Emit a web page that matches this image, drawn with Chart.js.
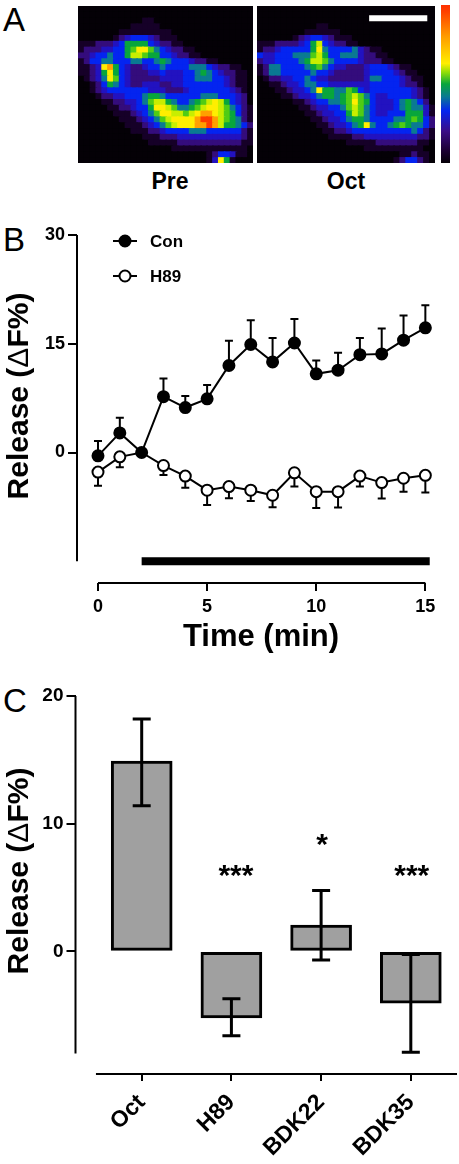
<!DOCTYPE html>
<html>
<head>
<meta charset="utf-8">
<title>Release</title>
<script src="https://cdn.jsdelivr.net/npm/chart.js@4"></script>
<style>
  html, body { margin: 0; padding: 0; background: #fff; }
  body { position: relative; width: 459px; height: 1164px; overflow: hidden; font-family: "Liberation Sans", Arial, sans-serif; color: #000; }
  canvas { position: absolute; display: block; }
  .heat { filter: blur(0.6px); background: #040006; }
  .letter { position: absolute; font-size: 33px; line-height: 33px; }
  .caption { position: absolute; font-size: 23px; line-height: 26px; font-weight: 700; width: 80px; text-align: center; }
</style>
</head>
<body>
<div class="letter" style="left:3px;top:3px">A</div>
<div class="letter" style="left:3px;top:223px">B</div>
<div class="letter" style="left:3px;top:684px">C</div>
<div class="caption" style="left:130px;top:168px">Pre</div>
<div class="caption" style="left:306px;top:168px">Oct</div>

<canvas id="pre" class="heat" width="175" height="157" style="left:78px;top:6px"></canvas>
<canvas id="oct" class="heat" width="178" height="157" style="left:257px;top:6px"></canvas>
<canvas id="lut" class="heat" width="9" height="158" style="left:441px;top:5px"></canvas>
<canvas id="timeChart" width="459" height="445" style="left:0;top:215px"></canvas>
<canvas id="barChart" width="459" height="484" style="left:0;top:680px"></canvas>

<script>
// panel A, one char per image cell, index into HEAT_COLORS
var preRows = [
  '000000000000000000000000000000',
  '000000000000000000000000000000',
  '000000000001100000000000000000',
  '000000000111110000000000000000',
  '000000011111111100000000000000',
  '000000123444321110000000000000',
  '111222346666432211000000000000',
  '122233446799754322110000000000',
  '223445446887664432211000000000',
  '124455444554456544432211000000',
  '11239a643223445444455543221100',
  '112369643222334333445654322110',
  '012359743222223333445554432110',
  '001246543223332233444444432110',
  '001234444444333222344444443210',
  '000122334445665444444555444320',
  '000011223345788654456789864320',
  '000001122344699875567899875421',
  '000000111234579988789aa9876421',
  '00000001112345789999abba876521',
  '00000000111234578999aaba866542',
  '000000000111223444455544444421',
  '000000000001112223333333333321',
  '000000000000111112222222222211',
  '000000000000000011111111111110',
  '000000000000000000000012443110',
  '000000000000000000000013961000'
];
var octRows = [
  '000000000000000000000000000000',
  '000000000000000000000000000000',
  '000000000000000000000000000000',
  '000000000011000000000000000000',
  '000000001111110000000000000000',
  '000000123443211100000000000000',
  '111222234684322110000000000000',
  '122344444695444453211000000000',
  '433444555786445553221100000000',
  '233444456887544443222110000000',
  '125544445675433222344432110000',
  '125544444544322222344443211000',
  '012233445433222222355444321100',
  '001123345544333333344444322100',
  '000112334596655764344444443210',
  '000011233456656787543344443210',
  '000000112344556797643334565420',
  '000000011233445787543334565531',
  '000000001123344687543344466631',
  '000000000112334566544445567642',
  '000000000011233456954456765542',
  '000000000001122344444444445421',
  '000000000000111122333333333221',
  '000000000000000111112222222110',
  '000000000000000000111111111100',
  '000000000000000000000000112110',
  '000000000000000000000001244210'
];
var HEAT_COLORS = ['#040006', '#160028', '#340c7c', '#2212c0', '#0424f0', '#0a7a92', '#08a63c', '#50cc14', '#c8ee00', '#ffee00', '#ffa000', '#ff3c00'];
var lutStops = [0, 0.08, 0.2, 0.33, 0.42, 0.5, 0.57, 0.63, 0.8, 0.96, 1];
var lutColors = ['#040006', '#1c0034', '#3a0c86', '#0424f0', '#0a7a92', '#08a63c', '#88dc08', '#ffee00', '#ff9c00', '#ff4000', '#ff3000'];
var scaleBarCols = [18.9, 28.7];
var scaleBarRow = 2.1;

// panel B
var minutes = [0, 1, 2, 3, 4, 5, 6, 7, 8, 9, 10, 11, 12, 13, 14, 15];
var conValues = [-0.46, 2.7, 0, 7.7, 6.2, 7.4, 12.0, 14.9, 12.5, 15.1, 10.85, 11.35, 13.5, 13.6, 15.5, 17.2];
var conErrTop = [1.6, 4.8, null, 10.2, 7.8, 9.3, 15.4, 18.25, 15.8, 18.4, 12.7, 13.75, 15.8, 17.1, 18.9, 20.3];
var h89Values = [-2.7, -0.6, 0, -1.8, -3.25, -5.2, -4.7, -5.2, -5.9, -2.8, -5.4, -5.4, -3.25, -4.15, -3.55, -3.15];
var h89ErrBottom = [-4.6, -2.05, null, -3.1, -4.85, -7.25, -6.3, -6.7, -7.55, -4.7, -7.65, -7.6, -4.7, -6.35, -5.4, -5.5];
var stimX = [2, 15.2];
var stimLevel = -15;
var timeXTicks = [0, 5, 10, 15];
var timeYTicks = [0, 15, 30];

// panel C
var groups = ['Oct', 'H89', 'BDK22', 'BDK35'];
var groupValues = [14.9, -5.2, 2.06, -4.05];
var groupErrHigh = [18.2, -3.7, 4.77, -0.25];
var groupErrLow = [11.4, -6.6, -0.68, -7.9];
var starText = ['***', '*', '***'];
var starX = [1.05, 2.01, 3.01];
var starY = [6.1, 8.5, 6.1];
var barYTicks = [0, 10, 20];

Chart.defaults.font.family = '"Liberation Sans", Arial, sans-serif';
Chart.defaults.font.weight = 'bold';
Chart.defaults.color = '#000';
Chart.defaults.animation = false;
Chart.defaults.responsive = false;
Chart.defaults.plugins.legend.display = false;
Chart.defaults.plugins.tooltip.enabled = false;

function cellPoints(rows) {
  var pts = [], cols = [];
  rows.forEach(function(row, r) {
    row.split('').forEach(function(ch, c) {
      // squares overlap up and left, so the centre sits a bit past the middle
      pts.push({ x: c + 0.63, y: r + 0.63 });
      cols.push(HEAT_COLORS[parseInt(ch, 16)]);
    });
  });
  return { pts: pts, cols: cols };
}

function heatChart(id, rows, extra) {
  var cells = cellPoints(rows);
  var el = document.getElementById(id);
  var datasets = [{
    data: cells.pts,
    pointStyle: 'rect',
    pointRadius: (el.width / rows[0].length) * 0.9,
    pointBorderWidth: 0,
    pointBackgroundColor: cells.cols,
    showLine: false,
    order: 2
  }];
  if (extra) datasets.push(extra);
  return new Chart(el, {
    type: 'scatter',
    data: { datasets: datasets },
    options: {
      layout: { padding: 0, autoPadding: false },
      scales: {
        x: { type: 'linear', min: 0, max: rows[0].length, display: false },
        y: { type: 'linear', min: 0, max: rows.length, reverse: true, display: false }
      }
    }
  });
}

heatChart('pre', preRows);
heatChart('oct', octRows, {
  type: 'line',
  data: scaleBarCols.map(function(c) { return { x: c, y: scaleBarRow }; }),
  borderColor: '#fff',
  borderWidth: 6,
  pointRadius: 0,
  order: 1
});

new Chart(document.getElementById('lut'), {
  type: 'bar',
  data: {
    labels: [''],
    datasets: [{
      data: [[0, 1]],
      barPercentage: 1,
      categoryPercentage: 1,
      backgroundColor: function(ctx) {
        var a = ctx.chart.chartArea;
        if (!a) return '#000';
        var g = ctx.chart.ctx.createLinearGradient(0, a.bottom, 0, a.top);
        lutStops.forEach(function(s, i) { g.addColorStop(s, lutColors[i]); });
        return g;
      }
    }]
  },
  options: {
    layout: { padding: 0, autoPadding: false },
    scales: {
      x: { display: false },
      y: { display: false, min: 0, max: 1 }
    }
  }
});

// detached axes, Prism style: spine only runs over the given value range
var spines = {
  id: 'spines',
  afterDraw: function(chart, args, o) {
    var c = chart.ctx, a = chart.chartArea, sx = chart.scales.x, sy = chart.scales.y;
    c.save();
    c.strokeStyle = '#000';
    c.lineWidth = 2;
    c.beginPath();
    c.moveTo(a.left, sy.getPixelForValue(o.y[0]));
    c.lineTo(a.left, sy.getPixelForValue(o.y[1]));
    c.moveTo(sx.getPixelForValue(o.x[0]), a.bottom);
    c.lineTo(sx.getPixelForValue(o.x[1]), a.bottom);
    c.stroke();
    c.restore();
  }
};

// y title: the delta is a thin glyph in the original, so the text goes in runs
var releaseTitle = {
  id: 'releaseTitle',
  afterDraw: function(chart, args, o) {
    var c = chart.ctx;
    var runs = [['Release (', 'bold'], ['Δ', 'normal'], ['F%)', 'bold']];
    var fam = ' ' + o.size + 'px "Liberation Sans", Arial, sans-serif';
    var total = 0;
    runs.forEach(function(r) { c.font = r[1] + fam; total += c.measureText(r[0]).width; });
    c.save();
    c.translate(o.x, o.y);
    c.rotate(-Math.PI / 2);
    c.textBaseline = 'alphabetic';
    c.fillStyle = '#000';
    var pos = -total / 2;
    runs.forEach(function(r) {
      c.font = r[1] + fam;
      c.fillText(r[0], pos, 0);
      pos += c.measureText(r[0]).width;
    });
    c.restore();
  }
};

var timeErrors = {
  id: 'timeErrors',
  beforeDatasetsDraw: function(chart) {
    var c = chart.ctx, sx = chart.scales.x, sy = chart.scales.y;
    function draw(tips, values) {
      tips.forEach(function(t, i) {
        if (t === null) return;
        var x = sx.getPixelForValue(minutes[i]);
        var y = sy.getPixelForValue(t);
        c.beginPath();
        c.moveTo(x, sy.getPixelForValue(values[i]));
        c.lineTo(x, y);
        c.moveTo(x - 4, y);
        c.lineTo(x + 4, y);
        c.stroke();
      });
    }
    c.save();
    c.strokeStyle = '#000';
    c.lineWidth = 2;
    draw(conErrTop, conValues);
    draw(h89ErrBottom, h89Values);
    c.restore();
  }
};

var timeLegend = {
  id: 'timeLegend',
  afterDraw: function(chart) {
    var c = chart.ctx;
    [['Con', 26, '#000'], ['H89', 61, '#fff']].forEach(function(item) {
      c.save();
      c.strokeStyle = '#000';
      c.lineWidth = 2;
      c.beginPath();
      c.moveTo(113, item[1]);
      c.lineTo(137, item[1]);
      c.stroke();
      c.beginPath();
      c.arc(125, item[1], 5.5, 0, Math.PI * 2);
      c.fillStyle = item[2];
      c.fill();
      c.stroke();
      c.fillStyle = '#000';
      c.font = 'bold 17px "Liberation Sans", Arial, sans-serif';
      c.textBaseline = 'middle';
      c.fillText(item[0], 150, item[1] + 1);
      c.restore();
    });
  }
};

function xy(xs, ys) {
  return xs.map(function(x, i) { return { x: x, y: ys[i] }; });
}

new Chart(document.getElementById('timeChart'), {
  type: 'line',
  data: {
    datasets: [
      {
        label: 'H89',
        data: xy(minutes, h89Values),
        borderColor: '#000',
        borderWidth: 2,
        pointBackgroundColor: '#fff',
        pointBorderColor: '#000',
        pointBorderWidth: 2,
        pointRadius: function(ctx) { return h89ErrBottom[ctx.dataIndex] === null ? 0 : 5.5; },
        order: 1
      },
      {
        label: 'Con',
        data: xy(minutes, conValues),
        borderColor: '#000',
        borderWidth: 2,
        pointBackgroundColor: '#000',
        pointBorderColor: '#000',
        pointBorderWidth: 2,
        pointRadius: 5.5,
        order: 2
      },
      {
        label: 'Oct',
        data: xy(stimX, stimX.map(function() { return stimLevel; })),
        borderColor: '#000',
        borderWidth: 8,
        borderCapStyle: 'butt',
        pointRadius: 0,
        order: 3
      }
    ]
  },
  options: {
    layout: { padding: { top: 20, right: 14, left: 0, bottom: 0 }, autoPadding: false },
    scales: {
      x: {
        type: 'linear',
        min: -0.962,
        max: 15.9,
        afterBuildTicks: function(s) { s.ticks = timeXTicks.map(function(v) { return { value: v }; }); },
        afterFit: function(s) { s.height = 77; },
        border: { display: false },
        grid: { drawOnChartArea: false, color: '#000', lineWidth: 2, tickLength: 8 },
        ticks: { autoSkip: false, maxRotation: 0, font: { size: 18, weight: 'bold' }, padding: 5 },
        title: { display: true, text: 'Time (min)', font: { size: 31, weight: 'bold' }, padding: { top: 1, bottom: 4 } }
      },
      y: {
        type: 'linear',
        min: -18,
        max: 30,
        afterBuildTicks: function(s) { s.ticks = timeYTicks.map(function(v) { return { value: v }; }); },
        afterFit: function(s) { s.width = 77; },
        border: { display: false },
        grid: { drawOnChartArea: false, color: '#000', lineWidth: 2, tickLength: 9 },
        ticks: { autoSkip: false, font: { size: 18, weight: 'bold' }, padding: 3 }
      }
    },
    plugins: {
      spines: { x: [0, 15], y: [30, -15] },
      releaseTitle: { x: 28, y: 181, size: 30 }
    }
  },
  plugins: [spines, releaseTitle, timeErrors, timeLegend]
});

var barErrors = {
  id: 'barErrors',
  afterDatasetsDraw: function(chart) {
    var c = chart.ctx, sx = chart.scales.x, sy = chart.scales.y;
    c.save();
    c.strokeStyle = '#000';
    c.lineWidth = 3;
    groups.forEach(function(g, i) {
      var x = sx.getPixelForValue(i);
      var hi = sy.getPixelForValue(groupErrHigh[i]);
      var lo = sy.getPixelForValue(groupErrLow[i]);
      c.beginPath();
      c.moveTo(x, hi);
      c.lineTo(x, lo);
      c.moveTo(x - 9, hi);
      c.lineTo(x + 9, hi);
      c.moveTo(x - 9, lo);
      c.lineTo(x + 9, lo);
      c.stroke();
    });
    c.fillStyle = '#000';
    c.font = 'bold 30px "Liberation Sans", Arial, sans-serif';
    c.textAlign = 'center';
    c.textBaseline = 'alphabetic';
    starText.forEach(function(t, i) {
      c.fillText(t, sx.getPixelForValue(starX[i]), sy.getPixelForValue(starY[i]) + 11);
    });
    c.restore();
  }
};

new Chart(document.getElementById('barChart'), {
  type: 'bar',
  data: {
    datasets: [{
      data: xy(groups.map(function(g, i) { return i; }), groupValues),
      backgroundColor: '#a0a0a0',
      borderColor: '#000',
      borderWidth: 3,
      borderSkipped: false,
      barThickness: 61
    }]
  },
  options: {
    layout: { padding: { top: 16, right: 1, left: 0, bottom: 0 }, autoPadding: false },
    scales: {
      x: {
        type: 'linear',
        offset: false,
        min: -0.738,
        max: 3.526,
        afterBuildTicks: function(s) { s.ticks = groups.map(function(g, i) { return { value: i }; }); },
        // rotated labels ask for side padding, the axis has to stay put
        afterFit: function(s) { s.height = 90; s.paddingLeft = 0; s.paddingRight = 0; },
        border: { display: false },
        grid: { offset: false, drawOnChartArea: false, color: '#000', lineWidth: 2, tickLength: 7 },
        ticks: {
          autoSkip: false,
          minRotation: 45,
          maxRotation: 45,
          font: { size: 23, weight: 'bold' },
          padding: 8,
          callback: function(v) { return groups[v]; }
        }
      },
      y: {
        type: 'linear',
        min: -9.6,
        max: 20,
        afterBuildTicks: function(s) { s.ticks = barYTicks.map(function(v) { return { value: v }; }); },
        afterFit: function(s) { s.width = 75.5; },
        border: { display: false },
        grid: { drawOnChartArea: false, color: '#000', lineWidth: 2, tickLength: 9 },
        ticks: { autoSkip: false, font: { size: 19, weight: 'bold' }, padding: 3 }
      }
    },
    plugins: {
      spines: { x: [-0.51, 3.515], y: [20, -8] },
      releaseTitle: { x: 28, y: 191, size: 30 }
    }
  },
  plugins: [spines, releaseTitle, barErrors]
});
</script>
</body>
</html>
